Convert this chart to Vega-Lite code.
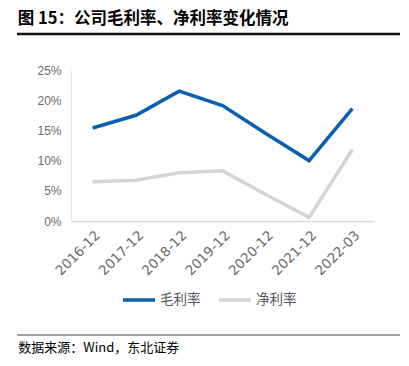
{
  "$schema": "https://vega.github.io/schema/vega-lite/v6.json",
  "padding": {"left": 15, "top": 11, "right": 11, "bottom": 3},
  "autosize": {"type": "pad"},
  "spacing": 28,
  "config": {"view": {"stroke": null}, "font": "Liberation Sans"},
  "vconcat": [
    {
      "width": 383,
      "height": 1,
      "title": {"text": "图 15：公司毛利率、净利率变化情况", "anchor": "start", "dx": 2, "font": "Noto Sans CJK SC", "fontSize": 16.5, "fontWeight": "bold", "color": "#000", "offset": 5},
      "data": {"values": [{"a": 0, "b": 1, "v": 0, "k": "header"}]},
      "mark": {"type": "rule", "color": "#111", "strokeWidth": 2.5, "clip": false, "xOffset": -54, "x2Offset": -54},
      "encoding": {
        "x": {"field": "a", "type": "quantitative", "scale": {"domain": [0, 1]}, "axis": null},
        "x2": {"field": "b"},
        "y": {"field": "v", "type": "quantitative", "scale": {"domain": [0, 1]}, "axis": null}
      }
    },
    {
      "width": 303,
      "height": 151,
      "data": {"values": [
        {"date": "2016-12", "series": "毛利率", "value": 15.4},
        {"date": "2017-12", "series": "毛利率", "value": 17.5},
        {"date": "2018-12", "series": "毛利率", "value": 21.5},
        {"date": "2019-12", "series": "毛利率", "value": 19.1},
        {"date": "2020-12", "series": "毛利率", "value": 14.5},
        {"date": "2021-12", "series": "毛利率", "value": 10.0},
        {"date": "2022-03", "series": "毛利率", "value": 18.6},
        {"date": "2016-12", "series": "净利率", "value": 6.5},
        {"date": "2017-12", "series": "净利率", "value": 6.75},
        {"date": "2018-12", "series": "净利率", "value": 8.0},
        {"date": "2019-12", "series": "净利率", "value": 8.3},
        {"date": "2020-12", "series": "净利率", "value": 4.4},
        {"date": "2021-12", "series": "净利率", "value": 0.6},
        {"date": "2022-03", "series": "净利率", "value": 11.8}
      ]},
      "mark": {"type": "line", "strokeWidth": 3.5},
      "encoding": {
        "x": {"field": "date", "type": "ordinal", "scale": {"type": "point", "padding": 0.5},
          "axis": {"title": null, "labelAngle": -45, "ticks": false, "domainColor": "#d9d9d9", "domainWidth": 1.5, "labelColor": "#6b6b6b", "labelFont": "DejaVu Sans", "labelFontSize": 13.5, "labelPadding": 7}},
        "y": {"field": "value", "type": "quantitative", "scale": {"domain": [0, 25]},
          "axis": {"title": null, "values": [0, 5, 10, 15, 20, 25], "labelExpr": "datum.value + '%'", "grid": false, "ticks": false, "domainColor": "#e6e6e6", "labelColor": "#6b6b6b", "labelFontSize": 12, "labelPadding": 10, "minExtent": 54}},
        "color": {"field": "series", "type": "nominal", "sort": ["毛利率", "净利率"],
          "scale": {"domain": ["毛利率", "净利率"], "range": ["#0a5fb0", "#d4d4d4"]},
          "legend": {"orient": "none", "legendX": 50, "legendY": 249, "padding": 0, "title": null, "direction": "horizontal", "symbolType": "stroke", "symbolSize": 1024, "symbolStrokeWidth": 3.5, "labelFontSize": 13.5, "labelColor": "#595959", "labelOffset": 3, "columnPadding": 11, "labelFont": "Noto Sans CJK SC"}}
      }
    },
    {
      "width": 383,
      "height": 29,
      "title": {"text": "数据来源：Wind，东北证券", "orient": "bottom", "anchor": "start", "dx": 2, "font": "Noto Sans CJK SC", "fontSize": 13, "fontWeight": "normal", "color": "#000", "offset": 6},
      "data": {"values": [{"a": 0, "b": 1, "v": 0, "k": "footer"}]},
      "mark": {"type": "rule", "color": "#808080", "strokeWidth": 1.5, "clip": false, "xOffset": -54, "x2Offset": -54},
      "encoding": {
        "x": {"field": "a", "type": "quantitative", "scale": {"domain": [0, 1]}, "axis": null},
        "x2": {"field": "b"},
        "y": {"field": "v", "type": "quantitative", "scale": {"domain": [0, 1]}, "axis": null}
      }
    }
  ]
}
